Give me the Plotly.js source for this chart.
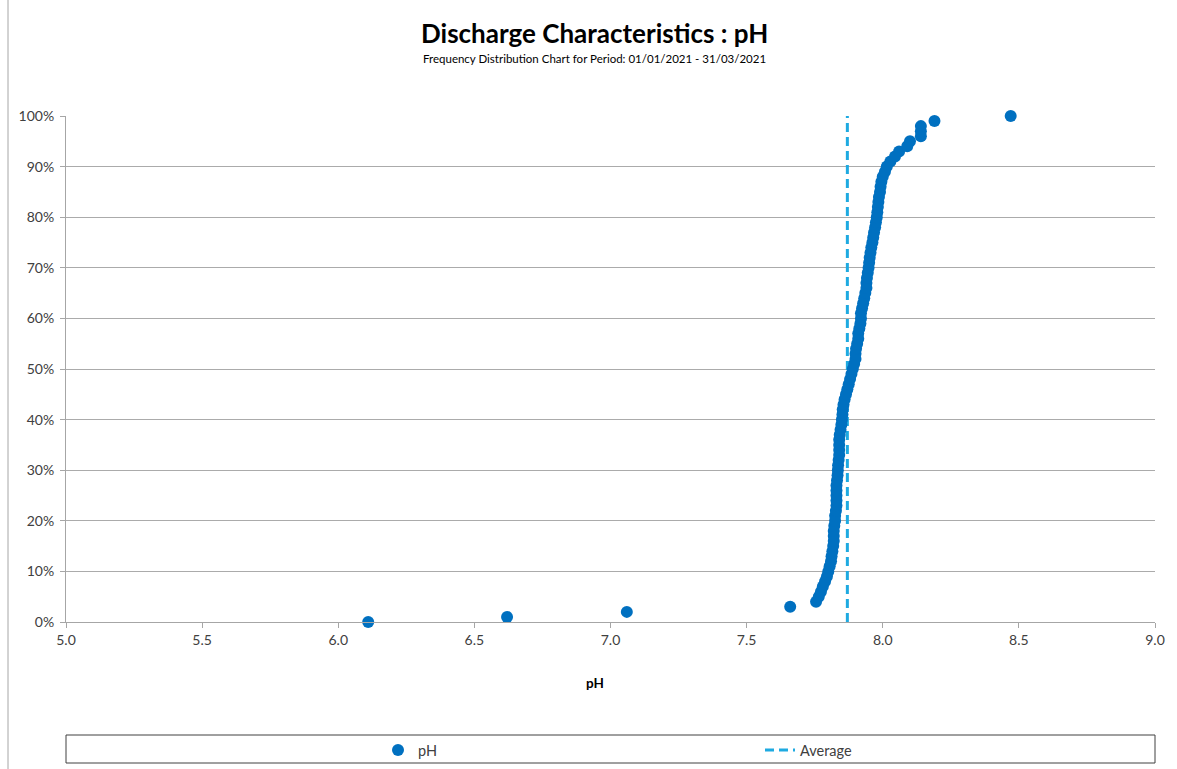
<!DOCTYPE html>
<html>
<head>
<meta charset="utf-8">
<script src="https://cdn.plot.ly/plotly-3.0.1.min.js"></script>
<style>html,body{margin:0;padding:0;background:#fff;}#chart{width:1177px;height:769px;}</style>
</head>
<body>
<div id="chart"></div>
<script>
// Cumulative frequency (fraction) for each pH percentile point
const cumFreq = [0,0.01,0.02,0.03,0.04,0.05,0.06,0.07,0.08,0.09,0.10,0.11,0.12,0.13,0.14,0.15,0.16,0.17,0.18,0.19,0.20,0.21,0.22,0.23,0.24,0.25,0.26,0.27,0.28,0.29,0.30,0.31,0.32,0.33,0.34,0.35,0.36,0.37,0.38,0.39,0.40,0.41,0.42,0.43,0.44,0.45,0.46,0.47,0.48,0.49,0.50,0.51,0.52,0.53,0.54,0.55,0.56,0.57,0.58,0.59,0.60,0.61,0.62,0.63,0.64,0.65,0.66,0.67,0.68,0.69,0.70,0.71,0.72,0.73,0.74,0.75,0.76,0.77,0.78,0.79,0.80,0.81,0.82,0.83,0.84,0.85,0.86,0.87,0.88,0.89,0.90,0.91,0.92,0.93,0.94,0.95,0.96,0.97,0.98,0.99,1.00];
const phValues = [6.11,6.62,7.06,7.66,7.755,7.765,7.773,7.78,7.788,7.795,7.80,7.805,7.81,7.812,7.815,7.818,7.82,7.82,7.82,7.822,7.825,7.825,7.828,7.83,7.83,7.83,7.83,7.83,7.832,7.834,7.835,7.836,7.838,7.84,7.84,7.84,7.84,7.842,7.845,7.848,7.85,7.852,7.853,7.856,7.86,7.865,7.87,7.875,7.88,7.885,7.89,7.895,7.90,7.90,7.902,7.906,7.91,7.91,7.914,7.918,7.92,7.92,7.924,7.928,7.932,7.936,7.94,7.94,7.942,7.945,7.948,7.95,7.952,7.955,7.958,7.962,7.965,7.968,7.972,7.975,7.978,7.98,7.982,7.984,7.986,7.99,7.992,7.995,8.00,8.008,8.015,8.028,8.045,8.06,8.09,8.10,8.14,8.14,8.14,8.19,8.47];
const averageX = [7.87, 7.87];
const averageY = [0, 1];
const xTickVals = [5.0,5.5,6.0,6.5,7.0,7.5,8.0,8.5,9.0];
const yTickVals = [0,0.1,0.2,0.3,0.4,0.5,0.6,0.7,0.8,0.9,1.0];

const FONT = 'Lato, "Open Sans", "Liberation Sans", sans-serif';

const traces = [
  {
    x: averageX, y: averageY, type: 'scatter', mode: 'lines', name: 'Average',
    line: {color: '#1EAAE1', width: 3, dash: '9px,5px'},
    legendrank: 2, cliponaxis: false, hoverinfo: 'skip'
  },
  {
    x: phValues, y: cumFreq, type: 'scatter', mode: 'markers', name: 'pH',
    marker: {color: '#0070C0', size: 12},
    legendrank: 1, cliponaxis: false
  }
];

const FW = 1177, FH = 769;
const L = 66, R = 22, T = 116, B = 147;
const W = FW - L - R, H = FH - T - B;
const px = v => (v - L) / W;        // absolute px -> paper x
const py = v => (FH - B - v) / H;   // absolute px -> paper y
const cx = v => v / FW;             // absolute px -> container x
const cy = v => 1 - v / FH;         // absolute px -> container y

const layout = {
  width: FW, height: FH,
  margin: {l: L, r: R, t: T, b: B, pad: 0, autoexpand: false},
  paper_bgcolor: '#ffffff', plot_bgcolor: '#ffffff',
  font: {family: FONT, color: '#404040', size: 14},
  showlegend: true,
  legend: {
    orientation: 'h', xref: 'container', yref: 'container',
    x: cx(378), xanchor: 'left', y: cy(734), yanchor: 'top',
    entrywidth: 337, entrywidthmode: 'pixels',
    font: {family: FONT, size: 14.5, color: '#404040'},
    bgcolor: 'rgba(0,0,0,0)', borderwidth: 0, traceorder: 'normal'
  },
  xaxis: {
    range: [5, 9], tickvals: xTickVals, tickformat: '.1f',
    showgrid: false, zeroline: false,
    showline: true, linecolor: '#A6A6A6', linewidth: 1,
    ticks: 'outside', ticklen: 5, tickcolor: '#A6A6A6',
    tickfont: {family: FONT, size: 14, color: '#404040'},
    fixedrange: true, automargin: false
  },
  yaxis: {
    range: [0, 1], tickvals: yTickVals, tickformat: '.0%',
    showgrid: true, gridcolor: '#ABABAB', gridwidth: 1, zeroline: false,
    showline: true, linecolor: '#A6A6A6', linewidth: 1,
    ticks: 'outside', ticklen: 5, tickcolor: '#A6A6A6',
    ticklabelstandoff: 3,
    tickfont: {family: FONT, size: 14, color: '#404040'},
    fixedrange: true, automargin: false
  },
  annotations: [
    {text: '<b>Discharge Characteristics : pH</b>', xref: 'paper', yref: 'paper',
     x: px(594), y: py(33), xanchor: 'center', yanchor: 'middle', showarrow: false,
     font: {family: FONT, size: 26, color: '#000000'}},
    {text: 'Frequency Distribution Chart for Period: 01/01/2021 - 31/03/2021', xref: 'paper', yref: 'paper',
     x: px(594), y: py(59), xanchor: 'center', yanchor: 'middle', showarrow: false,
     font: {family: FONT, size: 11.5, color: '#000000'}},
    {text: '<b>pH</b>', xref: 'paper', yref: 'paper',
     x: px(595), y: py(683), xanchor: 'center', yanchor: 'middle', showarrow: false,
     font: {family: FONT, size: 13.5, color: '#000000'}}
  ],
  shapes: [
    {type: 'rect', xref: 'paper', yref: 'paper', x0: 0, x1: 1, y0: py(735), y1: py(763),
     line: {color: '#404040', width: 1}, fillcolor: 'rgba(0,0,0,0)', layer: 'below'},
    {type: 'line', xref: 'paper', yref: 'paper', x0: px(8), x1: px(8), y0: py(769), y1: py(0),
     line: {color: '#A6A6A6', width: 1}}
  ]
};

Plotly.newPlot('chart', traces, layout, {displayModeBar: false, staticPlot: true});
</script>
</body>
</html>
